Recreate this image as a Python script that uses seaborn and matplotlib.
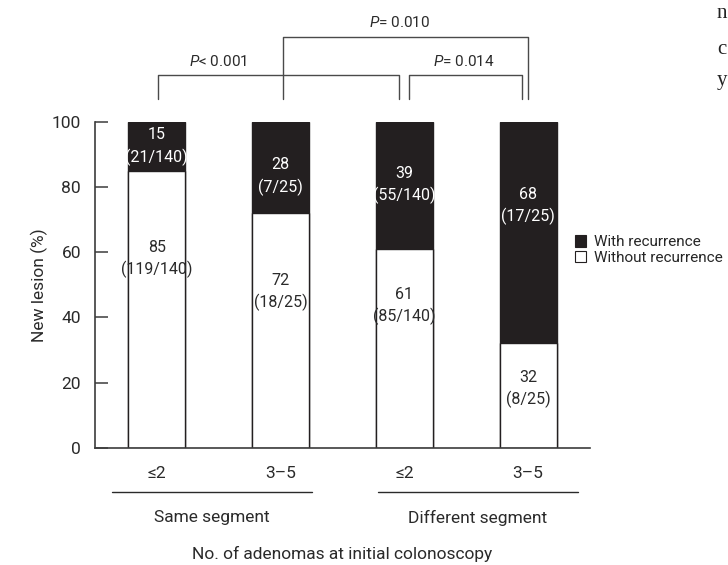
import matplotlib
matplotlib.use("Agg")
import matplotlib.pyplot as plt
import matplotlib.transforms as mtransforms
from matplotlib.patches import Patch
import pandas as pd
import seaborn as sns

# ---- data ----
bar_keys = ["same_le2", "same_3to5", "diff_le2", "diff_3to5"]
tick_labels = ["≤2", "3–5", "≤2", "3–5"]
segments = ["Same segment", "Different segment"]
with_recurrence = [15, 28, 39, 68]
without_recurrence = [85, 72, 61, 32]
with_counts = ["21/140", "7/25", "55/140", "17/25"]
without_counts = ["119/140", "18/25", "85/140", "8/25"]
p_texts = ["<0.001", "=0.014", "=0.010"]

# ---- layout ----
with_label_y = [92.5, 83.3, 80.7, 74.3]
without_label_y = [58.0, 47.9, 43.6, 18.1]
bracket_x = [(0.01, 1.96), (2.04, 2.95), (1.02, 3.0)]
bracket_top = [114.5, 114.5, 126.0]
bracket_foot = 107.2
p_label_xy = [(0.494, 118.5), (2.48, 118.5), (1.957, 130.5)]
segment_span = [(-0.363, 1.254), (1.787, 3.403)]
segment_center = [0.441, 2.593]

BLACK = "#231f20"
AXC = "#3c3c3c"
TXT = "#2a2a2a"
TEXT_FONT = ["Roboto", "DejaVu Sans"]

sns.set_theme(style="white")
plt.rcParams["font.family"] = TEXT_FONT
plt.rcParams["mathtext.fontset"] = "custom"
plt.rcParams["mathtext.rm"] = "Roboto"
plt.rcParams["mathtext.it"] = "Roboto:italic"

df = pd.DataFrame({
    "group": bar_keys,
    "with": with_recurrence,
    "without": without_recurrence,
})
df["total"] = df["with"] + df["without"]

fig = plt.figure(figsize=(7.28, 5.65), dpi=100)
ax = fig.add_axes([95 / 728, 117.3 / 565, 495 / 728, 325.7 / 565])

# stacked bars: full-height black, then white part drawn over it
sns.barplot(data=df, x="group", y="total", order=bar_keys, color=BLACK,
            saturation=1, width=0.46, edgecolor=BLACK, linewidth=1, ax=ax)
sns.barplot(data=df, x="group", y="without", order=bar_keys, color="white",
            saturation=1, width=0.46, edgecolor=BLACK, linewidth=1, ax=ax)

ax.set_xlim(-0.5, 3.5)
ax.set_ylim(0, 100)
ax.set_yticks([0, 20, 40, 60, 80, 100])
ax.set_xticks(range(len(bar_keys)))
ax.set_xticklabels(tick_labels)
ax.set_xticks([-0.5, 0.5, 1.5, 2.5, 3.5], minor=True)
ax.tick_params(axis="x", which="major", length=0, pad=13, labelsize=12.5,
               colors=TXT)
ax.tick_params(axis="x", which="minor", direction="in", length=8,
               width=1.1, color=AXC)
ax.tick_params(axis="y", direction="in", length=9, width=1.1, color=AXC,
               pad=10, labelsize=12.5, labelcolor=TXT, left=True)
ax.set_xlabel("")
ax.set_ylabel("New lesion (%)", fontsize=12.5, color=TXT, labelpad=3)
for side in ("top", "right"):
    ax.spines[side].set_visible(False)
for side in ("left", "bottom"):
    ax.spines[side].set_color(AXC)
    ax.spines[side].set_linewidth(1.2)

# value labels inside the bars
for i in range(len(bar_keys)):
    ax.text(i, with_label_y[i], f"{with_recurrence[i]}\n({with_counts[i]})",
            ha="center", va="center", color="white", fontsize=11.5,
            linespacing=1.45)
    ax.text(i, without_label_y[i], f"{without_recurrence[i]}\n({without_counts[i]})",
            ha="center", va="center", color=TXT, fontsize=11.5,
            linespacing=1.45)

# significance brackets
for (x1, x2), top, (tx, ty), ptxt in zip(bracket_x, bracket_top, p_label_xy, p_texts):
    ax.plot([x1, x1, x2, x2], [bracket_foot, top, top, bracket_foot],
            color="#4a4a4a", lw=1.0, clip_on=False)
    ax.text(tx, ty, r"$P$" + ptxt.replace("<", "< ").replace("=", "= "),
            ha="center", va="center", fontsize=11, color=TXT)

# segment grouping lines and labels below the axis
trans = mtransforms.blended_transform_factory(ax.transData, ax.transAxes)
for (x1, x2), cx, name in zip(segment_span, segment_center, segments):
    ax.plot([x1, x2], [-0.135, -0.135], color=TXT, lw=1.0,
            transform=trans, clip_on=False)
    ax.text(cx, -0.215, name, transform=trans, ha="center", va="center",
            fontsize=12.5, color=TXT)
ax.text(1.5, -0.325, "No. of adenomas at initial colonoscopy", transform=trans,
        ha="center", va="center", fontsize=12.5, color=TXT)

# legend
handles = [Patch(facecolor=BLACK, edgecolor=BLACK, lw=0.8),
           Patch(facecolor="white", edgecolor=BLACK, lw=0.8)]
fig.legend(handles, ["With recurrence", "Without recurrence"],
           loc="center left", bbox_to_anchor=(575 / 728, 1 - 250 / 565),
           frameon=False, fontsize=11, handlelength=0.75, handleheight=0.75,
           handletextpad=0.5, labelspacing=0.1, borderpad=0, borderaxespad=0)

# margin letters at the right edge
for ch, y in zip(["n", "c", "y"], [13, 50, 80]):
    fig.text(727 / 728, 1 - y / 565, ch, ha="right", va="center",
             fontsize=15, family=["Liberation Serif", "DejaVu Serif"],
             color="#222222")

fig.savefig("out.png", dpi=100)
